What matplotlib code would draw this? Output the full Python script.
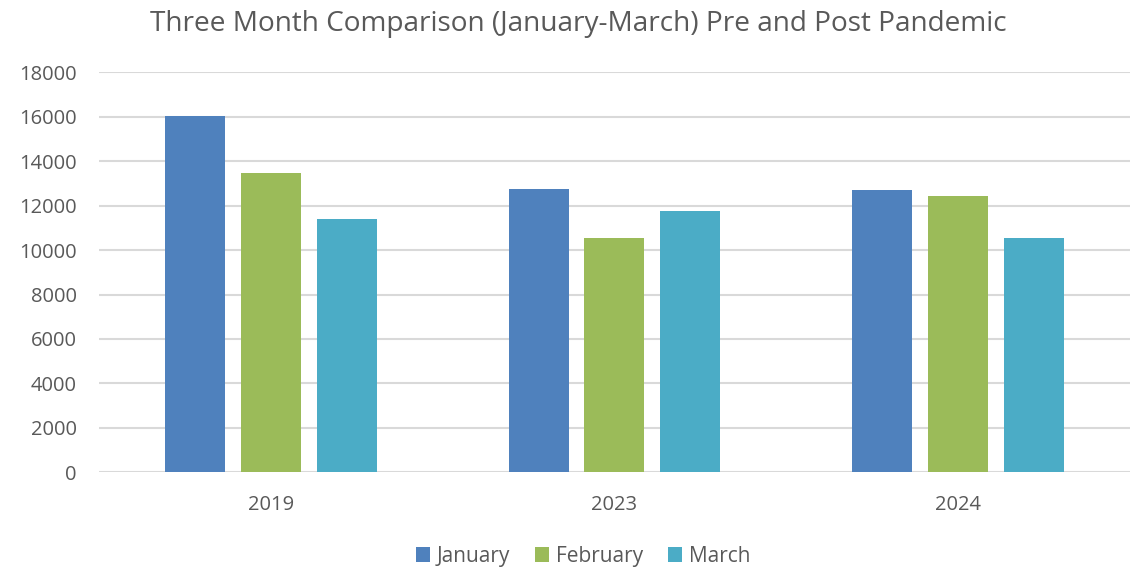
import numpy as np
import matplotlib
matplotlib.use("Agg")
import matplotlib.pyplot as plt

# data
years = ["2019", "2023", "2024"]
months = ["January", "February", "March"]
january = [16020, 12765, 12705]
february = [13480, 10555, 12450]
march = [11385, 11750, 10555]
colors = ["#4F81BD", "#9BBB59", "#4BACC6"]
yticks = list(range(0, 18001, 2000))

plt.rcParams['font.family'] = ['Open Sans', 'DejaVu Sans']
txt = "#595959"

fig = plt.figure(figsize=(11.43, 5.68), dpi=100)
ax = fig.add_axes([0.0866, 0.1685, 0.902, 0.7042])

x = np.arange(len(years))
w = 0.1746
step = 0.221
for i, (vals, name) in enumerate(zip([january, february, march], months)):
    ax.bar(x + (i - 1) * step, vals, width=w, color=colors[i], label=name, zorder=3)

ax.set_xlim(-0.5, 2.5)
ax.set_ylim(0, 18000)
ax.set_yticks(yticks)
ax.set_xticks(x)
ax.set_xticklabels(years)
ax.tick_params(axis='both', length=0, labelsize=14.5, colors=txt)
ax.tick_params(axis='x', pad=16)
ax.tick_params(axis='y', pad=16)
ax.grid(axis='y', color="#D9D9D9", linewidth=1.5, zorder=0)
for s in ax.spines.values():
    s.set_visible(False)

fig.text(0.506, 0.958, "Three Month Comparison (January-March) Pre and Post Pandemic",
         ha='center', va='center', fontsize=20.2, color=txt)

fig.legend(loc='center', bbox_to_anchor=(0.51, 0.021), ncol=3, frameon=False,
           fontsize=15, labelcolor=txt, handlelength=0.7, handleheight=0.7,
           handletextpad=0.3, columnspacing=1.2)

fig.savefig("out.png", dpi=100)
